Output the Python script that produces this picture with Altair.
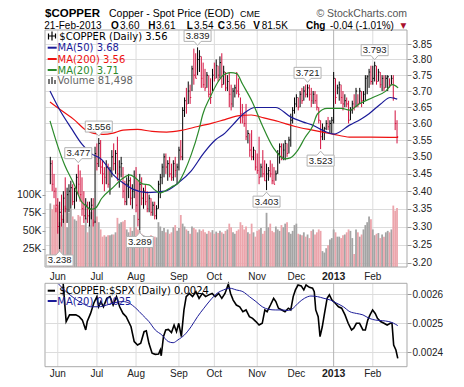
import altair as alt
import pandas as pd

# ---------------- data ----------------
MONTH_IDX = [4, 25, 46, 69, 88, 111, 132, 152, 173]
MONTH_LBL = ["Jun", "Jul", "Aug", "Sep", "Oct", "Nov", "Dec", "2013", "Feb"]

HIGH = [
    3.50, 3.49, 3.45, 3.41, 3.38, 3.37, 3.39, 3.40, 3.44, 3.41,
    3.42, 3.43, 3.42, 3.41, 3.45, 3.477, 3.46, 3.44, 3.40, 3.38,
    3.37, 3.37, 3.38, 3.38, 3.53, 3.54, 3.556, 3.55, 3.49, 3.47,
    3.49, 3.48, 3.47, 3.52, 3.54, 3.52, 3.56, 3.49, 3.50, 3.47,
    3.43, 3.44, 3.45, 3.44, 3.42, 3.46, 3.47, 3.43, 3.45, 3.44,
    3.41, 3.42, 3.40, 3.39, 3.38, 3.37, 3.37, 3.36, 3.43, 3.45,
    3.48, 3.51, 3.51, 3.49, 3.50, 3.48, 3.49, 3.50, 3.48, 3.53,
    3.55, 3.65, 3.68, 3.71, 3.73, 3.72, 3.78, 3.835, 3.82, 3.839,
    3.83, 3.81, 3.79, 3.77, 3.76, 3.75, 3.74, 3.77, 3.79, 3.80,
    3.78, 3.81, 3.82, 3.78, 3.76, 3.75, 3.76, 3.72, 3.71, 3.72,
    3.76, 3.74, 3.68, 3.66, 3.63, 3.66, 3.58, 3.57, 3.58, 3.53,
    3.52, 3.51, 3.56, 3.48, 3.52, 3.49, 3.48, 3.47, 3.49, 3.48,
    3.47, 3.46, 3.52, 3.54, 3.54, 3.54, 3.55, 3.54, 3.56, 3.63,
    3.65, 3.68, 3.69, 3.68, 3.70, 3.71, 3.715, 3.72, 3.721, 3.72,
    3.71, 3.70, 3.70, 3.69, 3.65, 3.61, 3.60, 3.59, 3.61, 3.62,
    3.61, 3.62, 3.76, 3.74, 3.72, 3.73, 3.72, 3.70, 3.69, 3.68,
    3.67, 3.65, 3.67, 3.69, 3.71, 3.69, 3.71, 3.70, 3.70, 3.75,
    3.75, 3.77, 3.78, 3.78, 3.793, 3.78, 3.77, 3.76, 3.75, 3.75,
    3.75, 3.75, 3.74, 3.75, 3.75, 3.64, 3.61]

LOW = [
    3.42, 3.40, 3.38, 3.34, 3.28, 3.238, 3.30, 3.31, 3.34, 3.31,
    3.34, 3.35, 3.36, 3.35, 3.37, 3.39, 3.37, 3.33, 3.31, 3.32,
    3.31, 3.30, 3.32, 3.30, 3.31, 3.46, 3.47, 3.45, 3.42, 3.40,
    3.42, 3.41, 3.39, 3.44, 3.46, 3.45, 3.43, 3.41, 3.44, 3.38,
    3.36, 3.36, 3.38, 3.36, 3.35, 3.38, 3.34, 3.30, 3.289, 3.36,
    3.35, 3.36, 3.34, 3.34, 3.33, 3.33, 3.32, 3.32, 3.35, 3.38,
    3.42, 3.44, 3.45, 3.43, 3.44, 3.43, 3.43, 3.44, 3.42, 3.46,
    3.49, 3.49, 3.62, 3.63, 3.66, 3.66, 3.70, 3.72, 3.74, 3.75,
    3.76, 3.71, 3.71, 3.70, 3.71, 3.68, 3.66, 3.70, 3.73, 3.74,
    3.73, 3.74, 3.71, 3.72, 3.70, 3.70, 3.65, 3.64, 3.65, 3.68,
    3.69, 3.68, 3.60, 3.60, 3.59, 3.55, 3.54, 3.50, 3.49, 3.49,
    3.46, 3.45, 3.42, 3.44, 3.44, 3.43, 3.403, 3.43, 3.44, 3.42,
    3.42, 3.43, 3.45, 3.48, 3.49, 3.49, 3.49, 3.50, 3.51, 3.53,
    3.60, 3.63, 3.65, 3.64, 3.65, 3.66, 3.67, 3.68, 3.68, 3.67,
    3.65, 3.66, 3.66, 3.64, 3.60, 3.523, 3.55, 3.55, 3.58, 3.58,
    3.57, 3.57, 3.60, 3.66, 3.69, 3.67, 3.66, 3.64, 3.65, 3.65,
    3.60, 3.61, 3.63, 3.64, 3.65, 3.65, 3.66, 3.65, 3.66, 3.67,
    3.69, 3.71, 3.72, 3.72, 3.73, 3.72, 3.73, 3.71, 3.70, 3.70,
    3.71, 3.70, 3.71, 3.72, 3.67, 3.58, 3.54]

CLOSE = [
    3.48, 3.42, 3.40, 3.36, 3.30, 3.34, 3.32, 3.38, 3.35, 3.39,
    3.40, 3.41, 3.37, 3.40, 3.44, 3.42, 3.39, 3.35, 3.33, 3.36,
    3.33, 3.35, 3.36, 3.31, 3.51, 3.48, 3.54, 3.47, 3.45, 3.44,
    3.47, 3.42, 3.46, 3.50, 3.48, 3.51, 3.45, 3.47, 3.48, 3.40,
    3.37, 3.42, 3.43, 3.38, 3.40, 3.44, 3.36, 3.32, 3.42, 3.38,
    3.40, 3.37, 3.35, 3.38, 3.34, 3.36, 3.33, 3.35, 3.42, 3.44,
    3.47, 3.50, 3.47, 3.48, 3.45, 3.44, 3.48, 3.46, 3.47, 3.52,
    3.50, 3.64, 3.67, 3.66, 3.70, 3.68, 3.77, 3.75, 3.74, 3.80,
    3.81, 3.74, 3.72, 3.71, 3.75, 3.69, 3.68, 3.75, 3.74, 3.78,
    3.75, 3.79, 3.72, 3.76, 3.71, 3.73, 3.69, 3.66, 3.70, 3.71,
    3.70, 3.69, 3.63, 3.62, 3.60, 3.56, 3.57, 3.52, 3.50, 3.52,
    3.47, 3.46, 3.44, 3.47, 3.45, 3.43, 3.45, 3.46, 3.45, 3.43,
    3.42, 3.45, 3.51, 3.53, 3.50, 3.52, 3.54, 3.51, 3.55, 3.61,
    3.64, 3.66, 3.68, 3.65, 3.69, 3.67, 3.70, 3.69, 3.71, 3.69,
    3.67, 3.69, 3.67, 3.65, 3.61, 3.56, 3.58, 3.585, 3.60, 3.59,
    3.60, 3.61, 3.74, 3.68, 3.71, 3.72, 3.68, 3.66, 3.67, 3.66,
    3.61, 3.64, 3.66, 3.65, 3.70, 3.66, 3.70, 3.67, 3.69, 3.74,
    3.745, 3.76, 3.73, 3.74, 3.78, 3.73, 3.76, 3.72, 3.74, 3.71,
    3.74, 3.745, 3.72, 3.74, 3.68, 3.60, 3.56]

VOLUME_K = [
    88, 80, 86, 82, 86, 62, 72, 66, 85, 55,
    75, 80, 70, 66, 64, 72, 70, 58, 58, 68,
    48, 58, 76, 66, 64, 70, 62, 52, 42, 44,
    42, 44, 44, 45, 45, 48, 68, 60, 62, 63,
    65, 52, 48, 55, 50, 72, 55, 52, 50, 46,
    44, 42, 40, 42, 44, 40, 42, 41, 62, 56,
    50, 54, 48, 52, 46, 48, 55, 58, 50, 54,
    72, 60, 56, 52, 50, 46, 56, 54, 52, 48,
    52, 50, 52, 48, 46, 50, 48, 51, 46, 49,
    47, 50, 48, 46, 50, 52, 60, 55, 48, 46,
    50, 52, 62, 58, 52, 56, 48, 46, 60, 48,
    42, 50, 52, 54, 46, 50, 75, 55, 60, 50,
    48, 56, 52, 50, 58, 55, 60, 62, 48, 46,
    50, 58, 60, 46, 45, 44, 48, 42, 45, 40,
    50, 52, 45, 48, 52, 50, 22, 20, 26, 30,
    38, 40, 52, 48, 42, 42, 40, 44, 45, 48,
    52, 50, 40, 18, 52, 48, 42, 45, 52, 58,
    62, 70, 66, 52, 44, 46, 47, 40, 45, 42,
    48, 50, 48, 52, 85, 78, 81.5]

MA200_PTS = [(-0.17, 3.666), (5.6, 3.641), (12.9, 3.611), (19.1, 3.580), (23.3, 3.570),
             (28.5, 3.567), (33.7, 3.571), (39.0, 3.580), (46.8, 3.582), (54.6, 3.576),
             (62.4, 3.574), (70.3, 3.579), (79.1, 3.591), (86.9, 3.601), (93.7, 3.612),
             (101.5, 3.624), (107.8, 3.626), (114.6, 3.617), (122.4, 3.606), (131.3, 3.591),
             (140.7, 3.580), (151.6, 3.568), (160.5, 3.559), (172.0, 3.559), (186.6, 3.558)]

MA50_PTS = [(-0.17, 3.700), (5.0, 3.642), (11.2, 3.586), (17.2, 3.536), (21.6, 3.511),
            (27.6, 3.492), (33.7, 3.448), (38.9, 3.424), (44.2, 3.406), (52.0, 3.396),
            (61.4, 3.400), (68.7, 3.424), (75.5, 3.458), (82.3, 3.511), (88.5, 3.550),
            (93.7, 3.571), (97.9, 3.596), (104.1, 3.632), (109.9, 3.649), (120.9, 3.649),
            (128.7, 3.621), (135.4, 3.605), (140.7, 3.595), (146.9, 3.577), (152.2, 3.568),
            (160.5, 3.595), (166.8, 3.614), (171.0, 3.630), (177.2, 3.660), (182.4, 3.680),
            (186.1, 3.675)]

MA20_PTS = [(-0.17, 3.608), (4.0, 3.532), (7.7, 3.476), (12.9, 3.418), (16.5, 3.372),
            (19.1, 3.358), (21.7, 3.348), (24.3, 3.352), (27.5, 3.379), (33.7, 3.411),
            (38.9, 3.437), (42.6, 3.447), (45.7, 3.438), (49.4, 3.421), (53.0, 3.418),
            (56.2, 3.403), (58.8, 3.395), (61.4, 3.400), (65.0, 3.412), (68.7, 3.424),
            (71.8, 3.455), (75.5, 3.505), (79.7, 3.580), (81.7, 3.626), (85.9, 3.683),
            (90.1, 3.730), (93.2, 3.752), (96.8, 3.758), (100.0, 3.755), (103.1, 3.722),
            (108.3, 3.667), (113.5, 3.597), (119.8, 3.526), (125.8, 3.494), (128.7, 3.497),
            (132.8, 3.520), (136.5, 3.556), (140.7, 3.592), (143.3, 3.629), (148.5, 3.646),
            (156.3, 3.646), (160.5, 3.641), (165.7, 3.660), (173.0, 3.680), (179.8, 3.699),
            (183.5, 3.720), (186.6, 3.710)]

RATIO_PTS = [
    (6.9, 0.002637), (7.3, 0.002603), (8.5, 0.002506), (10.3, 0.002529), (13.7, 0.002529),
    (15.5, 0.002523), (17.2, 0.002511), (19.0, 0.002477), (19.8, 0.002506), (21.6, 0.002534),
    (23.3, 0.002569), (25.0, 0.002592), (25.9, 0.002557), (27.1, 0.002575), (28.5, 0.002557),
    (30.3, 0.002586), (32.0, 0.002592), (33.7, 0.002563), (35.5, 0.002592), (37.2, 0.002557),
    (39.0, 0.002534), (40.7, 0.002523), (43.3, 0.002488), (45.0, 0.002437), (46.8, 0.002425),
    (48.5, 0.002431), (50.3, 0.002471), (51.5, 0.002474), (52.9, 0.002431), (54.6, 0.002397),
    (56.3, 0.002393), (58.1, 0.002394), (59.0, 0.002408), (59.5, 0.002388), (60.7, 0.002454),
    (61.9, 0.002477), (63.3, 0.002479), (65.0, 0.002468), (66.4, 0.002494), (67.7, 0.002471),
    (68.9, 0.002500), (70.3, 0.002454), (71.7, 0.002546), (72.9, 0.002592), (74.6, 0.002603),
    (76.3, 0.002592), (78.1, 0.002609), (79.8, 0.002586), (81.6, 0.002603), (83.3, 0.002592),
    (85.0, 0.002598), (86.8, 0.002603), (88.5, 0.002592), (90.3, 0.002603), (92.0, 0.002586),
    (93.7, 0.002603), (95.5, 0.002635), (96.7, 0.002603), (98.1, 0.002580), (99.8, 0.002563),
    (101.6, 0.002557), (103.3, 0.002540), (105.0, 0.002546), (106.8, 0.002523), (108.5, 0.002517),
    (110.3, 0.002506), (112.0, 0.002494), (113.7, 0.002500), (115.1, 0.002546), (116.3, 0.002540),
    (118.1, 0.002563), (119.8, 0.002586), (121.0, 0.002575), (122.4, 0.002552), (124.2, 0.002546),
    (125.9, 0.002540), (127.7, 0.002552), (129.0, 0.002546), (130.3, 0.002592), (131.5, 0.002615),
    (132.9, 0.002632), (134.6, 0.002629), (136.0, 0.002615), (137.2, 0.002632), (139.0, 0.002624),
    (140.7, 0.002621), (141.6, 0.002609), (142.4, 0.002546), (143.7, 0.002523), (144.7, 0.002454),
    (145.9, 0.002488), (147.1, 0.002534), (148.5, 0.002586), (149.7, 0.002598), (151.1, 0.002580),
    (152.9, 0.002569), (154.6, 0.002557), (156.3, 0.002552), (158.1, 0.002529), (159.8, 0.002500),
    (161.6, 0.002477), (162.8, 0.002483), (164.2, 0.002500), (165.9, 0.002500), (167.7, 0.002477),
    (169.0, 0.002477), (170.3, 0.002511), (171.5, 0.002529), (172.9, 0.002546), (174.3, 0.002534),
    (175.5, 0.002517), (177.2, 0.002506), (179.0, 0.002500), (180.7, 0.002494), (182.4, 0.002500),
    (183.3, 0.002500), (184.2, 0.002425), (185.4, 0.002408), (186.4, 0.002379)]

RATIO_MA_PTS = [
    (4.2, 0.002637), (8.5, 0.002609), (12.9, 0.002586), (17.2, 0.002569), (21.6, 0.002557),
    (25.9, 0.002557), (30.3, 0.002563), (34.6, 0.002571), (39.0, 0.002575), (42.4, 0.002569),
    (45.9, 0.002552), (49.4, 0.002529), (52.9, 0.002506), (56.3, 0.002477), (59.8, 0.002460),
    (63.3, 0.002437), (65.9, 0.002433), (68.5, 0.002443), (72.0, 0.002460), (75.5, 0.002488),
    (79.0, 0.002523), (82.4, 0.002552), (85.9, 0.002580), (89.4, 0.002603), (92.9, 0.002615),
    (96.3, 0.002621), (99.8, 0.002615), (103.3, 0.002609), (106.8, 0.002592), (110.3, 0.002575),
    (113.7, 0.002557), (117.2, 0.002548), (120.7, 0.002546), (124.2, 0.002546), (127.7, 0.002544),
    (130.3, 0.002552), (132.9, 0.002569), (136.3, 0.002586), (139.8, 0.002594), (143.3, 0.002592),
    (146.8, 0.002586), (150.3, 0.002580), (153.7, 0.002569), (157.2, 0.002557), (160.7, 0.002540),
    (164.2, 0.002534), (167.7, 0.002529), (171.1, 0.002517), (174.6, 0.002511), (178.1, 0.002509),
    (181.6, 0.002506), (184.2, 0.002500), (186.4, 0.002492)]

CALLOUT_UP = [(79, 3.839), (26, 3.556), (15, 3.477), (138, 3.721), (174, 3.793)]
CALLOUT_DN = [(5, 3.238), (48, 3.289), (116, 3.403), (145, 3.523)]

PRICE_TICKS = [3.20, 3.25, 3.30, 3.35, 3.40, 3.45, 3.50, 3.55, 3.60, 3.65, 3.70, 3.75, 3.80, 3.85]
VOL_TICKS = [25000, 50000, 75000, 100000]
RATIO_TICKS = [0.0024, 0.0025, 0.0026]

# ---------------- tables ----------------
n = list(range(len(HIGH)))
bars = pd.DataFrame({"n": n, "hi": HIGH, "lo": LOW, "cl": CLOSE,
                     "vol": [v * 1000 for v in VOLUME_K]})
bars["up"] = bars["cl"].diff().fillna(0) >= 0
bars["n2"] = bars["n"] + 0.6

def pts(p):
    return pd.DataFrame({"n": [a for a, _ in p], "v": [b for _, b in p]})

months = pd.DataFrame({"n": MONTH_IDX, "lbl": MONTH_LBL})
up_df = pd.DataFrame({"n": [a for a, _ in CALLOUT_UP], "v": [b for _, b in CALLOUT_UP]})
up_df["lbl"] = up_df["v"].map(lambda v: f"{v:.3f}")
dn_df = pd.DataFrame({"n": [a for a, _ in CALLOUT_DN], "v": [b for _, b in CALLOUT_DN]})
dn_df["lbl"] = dn_df["v"].map(lambda v: f"{v:.3f}")
one = pd.DataFrame({"k": [0]})

# ---------------- geometry ----------------
W, H = 362, 337
MAIN_H = 237
LOW_TOP, LOW_BOT = 253.3, 336.7
LBL_FONT = "Liberation Sans"
LEG_FONT = "DejaVu Sans"
RED = "#d3103e"
NAVY = "#1b1b98"
GREEN = "#2b8a2b"

xs = alt.Scale(domain=[-0.17, 188.67], nice=False, zero=False)
X = alt.X("n:Q", scale=xs, axis=None)
ys = alt.Scale(type="log", domain=[3.1891, 3.8958], range=[MAIN_H, 0], nice=False)
yv = alt.Scale(domain=[0, 328000], range=[MAIN_H, 0], nice=False, zero=True)
yr = alt.Scale(domain=[0.0023503, 0.0026379], range=[LOW_BOT, LOW_TOP], nice=False, zero=False)

price_axis = alt.Axis(orient="right", values=PRICE_TICKS, format=".2f", grid=True,
                      gridColor="#dcdcdc", domain=False, tickSize=4, tickColor="#999999",
                      labelFont=LBL_FONT, labelFontSize=10, labelColor="#222222",
                      labelPadding=1, title=None)
vol_axis = alt.Axis(orient="left", values=VOL_TICKS, labelExpr="(datum.value/1000) + 'K'",
                    grid=False, domain=False, tickSize=3, tickColor="#999999",
                    labelFont=LBL_FONT, labelFontSize=10.5, labelColor="#222222",
                    labelPadding=1, title=None)
ratio_axis = alt.Axis(orient="right", values=RATIO_TICKS, format=".4f", grid=True,
                      gridColor="#dcdcdc", domain=False, tickSize=4, tickColor="#999999",
                      labelFont=LBL_FONT, labelFontSize=10, labelColor="#222222",
                      labelPadding=1, title=None)

updown = alt.condition("datum.up", alt.value("#000000"), alt.value(RED))

def label(s, x, y, size=10.0, color="#000000", weight="normal", font=LEG_FONT, align="left"):
    return alt.Chart(one).mark_text(text=s, align=align, baseline="alphabetic", fontSize=size,
                                    font=font, fontWeight=weight, color=color).encode(
        x=alt.value(x), y=alt.value(y))

def seg(x1, x2, y1, y2, color, w=2.0):
    return alt.Chart(one).mark_rule(color=color, strokeWidth=w).encode(
        x=alt.value(x1), x2=alt.value(x2), y=alt.value(y1), y2=alt.value(y2))

def frame(y1, y2):
    return alt.Chart(one).mark_rect(fillOpacity=0, stroke="#a9a9a9", strokeWidth=1).encode(
        x=alt.value(0), x2=alt.value(W), y=alt.value(y1), y2=alt.value(y2))

gridc = alt.condition("datum.lbl == '2013'", alt.value("#b4b4b4"), alt.value("#dcdcdc"))
vgrid_main = alt.Chart(months).mark_rule(strokeWidth=1).encode(
    x=X, y=alt.value(0), y2=alt.value(MAIN_H), color=gridc)
vgrid_low = alt.Chart(months).mark_rule(strokeWidth=1).encode(
    x=X, y=alt.value(LOW_TOP), y2=alt.value(LOW_BOT), color=gridc)

# volume
vol = alt.Chart(bars).mark_bar(size=1.8).encode(
    x=X, y=alt.Y("vol:Q", scale=yv, axis=vol_axis),
    color=alt.condition("datum.up", alt.value("#a4a4a4"), alt.value("#eca5ac")))

# price group
hl = alt.Chart(bars).mark_rule(strokeWidth=1).encode(
    x=X, y=alt.Y("lo:Q", scale=ys, axis=price_axis), y2="hi:Q", color=updown)
ctick = alt.Chart(bars).mark_rule(strokeWidth=1).encode(
    x=X, x2="n2:Q", y=alt.Y("cl:Q", scale=ys), color=updown)

def ma_line(p, color):
    return alt.Chart(pts(p)).mark_line(color=color, strokeWidth=1.2, interpolate="monotone").encode(
        x=X, y=alt.Y("v:Q", scale=ys))

PATH_UP = "M-13.5,-17H13.5V-6H3.5L0,-2L-3.5,-6H-13.5Z"
PATH_DN = "M-13.5,17H13.5V6H3.5L0,2L-3.5,6H-13.5Z"
box_up = alt.Chart(up_df).mark_point(shape=PATH_UP, size=4, filled=True, fill="white",
                                     stroke="#b2b2b2", strokeWidth=1, opacity=1).encode(
    x=X, y=alt.Y("v:Q", scale=ys))
box_dn = alt.Chart(dn_df).mark_point(shape=PATH_DN, size=4, filled=True, fill="white",
                                     stroke="#b2b2b2", strokeWidth=1, opacity=1).encode(
    x=X, y=alt.Y("v:Q", scale=ys))
txt_up = alt.Chart(up_df).mark_text(dy=-11.5, baseline="middle", fontSize=9.5, font=LBL_FONT,
                                    color="#222222").encode(x=X, y=alt.Y("v:Q", scale=ys), text="lbl:N")
txt_dn = alt.Chart(dn_df).mark_text(dy=11.5, baseline="middle", fontSize=9.5, font=LBL_FONT,
                                    color="#222222").encode(x=X, y=alt.Y("v:Q", scale=ys), text="lbl:N")

price = alt.layer(hl, ctick, ma_line(MA200_PTS, "#ee1111"), ma_line(MA50_PTS, NAVY),
                  ma_line(MA20_PTS, GREEN), box_up, box_dn, txt_up, txt_dn)

# ratio group
rline = alt.Chart(pts(RATIO_PTS)).mark_line(color="#000000", strokeWidth=1.6).encode(
    x=X, y=alt.Y("v:Q", scale=yr, axis=ratio_axis))
rma = alt.Chart(pts(RATIO_MA_PTS)).mark_line(color=NAVY, strokeWidth=1, interpolate="monotone").encode(
    x=X, y=alt.Y("v:Q", scale=yr))
ratio = alt.layer(rline, rma)

# month labels
mlab_mid = alt.Chart(months).transform_filter("datum.lbl != '2013'").mark_text(
    baseline="alphabetic", fontSize=10, font=LBL_FONT, color="#222222").encode(
    x=X, y=alt.value(250), text="lbl:N")
mlab_mid_b = alt.Chart(months).transform_filter("datum.lbl == '2013'").mark_text(
    baseline="alphabetic", fontSize=10.5, font=LBL_FONT, fontWeight="bold", color="#222222").encode(
    x=X, y=alt.value(250), text="lbl:N")
mlab_bot = alt.Chart(months).transform_filter("datum.lbl != '2013'").mark_text(
    baseline="alphabetic", fontSize=10, font=LBL_FONT, color="#222222").encode(
    x=X, y=alt.value(347), text="lbl:N")
mlab_bot_b = alt.Chart(months).transform_filter("datum.lbl == '2013'").mark_text(
    baseline="alphabetic", fontSize=10.5, font=LBL_FONT, fontWeight="bold", color="#222222").encode(
    x=X, y=alt.value(347), text="lbl:N")

HY1 = -13.0   # first header row baseline (view coords)
HY2 = -1.4    # second header row baseline
HS2 = 10      # second header row font size
deco = [
    # main panel legend
    seg(3.5, 3.5, 3.5, 9.5, "#000000", 1.2), seg(7, 7, 1.5, 10.5, "#000000", 1.2),
    seg(10.5, 10.5, 3.5, 8.5, "#000000", 1.2), seg(3.5, 10.5, 6, 6, "#000000", 1),
    label("$COPPER (Daily) 3.56", 14.3, 10.0),
    seg(2.7, 11.7, 17.7, 17.7, NAVY), label("MA(50) 3.68", 12.5, 21.4, color=NAVY),
    seg(2.7, 11.7, 29, 29, "#ee1111"), label("MA(200) 3.56", 12.5, 32.6, color="#ee1111"),
    seg(2.7, 11.7, 40, 40, GREEN), label("MA(20) 3.71", 12.5, 43.6, color=GREEN),
    seg(4, 4, 49, 54, "#777777", 2), seg(7, 7, 47, 54, "#777777", 2), seg(10, 10, 50, 54, "#777777", 2),
    label("Volume 81,498", 12.5, 53.6, color="#666666"),
    # lower panel legend
    seg(2.7, 10, 260.7, 260.7, "#000000"), label("$COPPER:$SPX (Daily) 0.0024", 14.3, 264.3),
    seg(2.7, 11.7, 271, 271, NAVY), label("MA(20) 0.0025", 12.3, 274.7, color=NAVY),
    # header
    label("$COPPER", 0, -12.8, size=11.5, weight="bold", font=LBL_FONT),
    label("Copper - Spot Price (EOD)", 64, HY1, size=10.5, font=LBL_FONT),
    label("CME", 195, HY1, size=9, font=LBL_FONT),
    label("\u00a9 StockCharts.com", 362, HY1, size=10.5, font=LBL_FONT, color="#555555", align="right"),
    label("21-Feb-2013", -0.7, HY2, size=HS2, font=LBL_FONT),
    label("O", 66, HY2, size=HS2, font=LBL_FONT, weight="bold"), label("3.60", 75, HY2, size=HS2, font=LBL_FONT),
    label("H", 103.3, HY2, size=HS2, font=LBL_FONT, weight="bold"), label("3.61", 111, HY2, size=HS2, font=LBL_FONT),
    label("L", 141.7, HY2, size=HS2, font=LBL_FONT, weight="bold"), label("3.54", 149, HY2, size=HS2, font=LBL_FONT),
    label("C", 172.7, HY2, size=HS2, font=LBL_FONT, weight="bold"), label("3.56", 181, HY2, size=HS2, font=LBL_FONT),
    label("V", 208.3, HY2, size=HS2, font=LBL_FONT, weight="bold"), label("81.5K", 216.7, HY2, size=HS2, font=LBL_FONT),
    label("Chg", 261, HY2, size=HS2, font=LBL_FONT, weight="bold"),
    label("-0.04 (-1.01%)", 285, HY2, size=HS2, font=LBL_FONT),
    label("\u25bc", 355.5, HY2 - 0.8, size=7.5, color="#a8102e", font=LEG_FONT),
]

chart = alt.layer(
    vgrid_main, vgrid_low, vol, price, ratio,
    frame(0, MAIN_H), frame(LOW_TOP, LOW_BOT),
    mlab_mid, mlab_mid_b, mlab_bot, mlab_bot_b, *deco
).resolve_scale(y="independent").properties(
    width=W, height=H,
    autosize=alt.AutoSizeParams(type="none"),
    padding={"left": 37, "top": 22, "right": 49, "bottom": 12},
    background="white",
).configure_view(strokeWidth=0)

chart.save("out.html", embed_options={"renderer": "svg", "actions": False})
